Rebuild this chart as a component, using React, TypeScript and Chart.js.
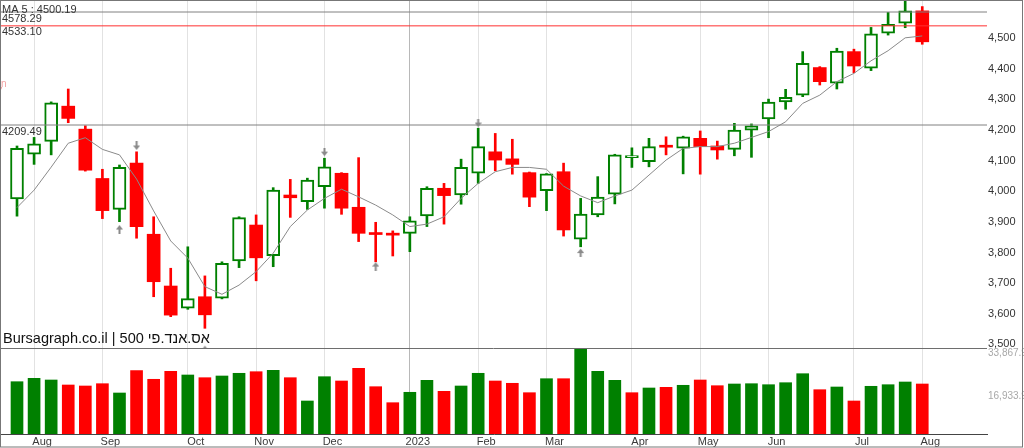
import React, { useEffect, useRef } from 'react';
import { Chart, registerables } from 'chart.js';

Chart.register(...registerables);

// ---- weekly OHLC (S&P 500) ----
const opens = [3968, 4114, 4156, 4271, 4196, 4035, 3934, 4085, 3853, 3684, 3612, 3649, 3644, 3766, 3883, 3783, 3981, 3959, 4008, 4052, 3941, 3856, 3854, 3856, 3913, 4003, 3981, 4052, 4122, 4099, 4054, 3995, 4057, 3837, 3916, 3984, 4103, 4090, 4140, 4134, 4166, 4141, 4130, 4193, 4229, 4285, 4307, 4397, 4346, 4449, 4395, 4509, 4542, 4582];
const highs = [4141, 4169, 4285, 4327, 4207, 4065, 4079, 4122, 3910, 3742, 3812, 3717, 3763, 3910, 3916, 4005, 4032, 4036, 4101, 4054, 4103, 3892, 3864, 3910, 4008, 4019, 4098, 4199, 4182, 4163, 4056, 4051, 4085, 3970, 4041, 4114, 4135, 4166, 4171, 4173, 4190, 4157, 4215, 4213, 4294, 4326, 4449, 4400, 4460, 4457, 4528, 4577, 4615, 4596];
const lows = [3912, 4081, 4112, 4217, 4059, 3904, 3894, 3840, 3649, 3584, 3608, 3546, 3642, 3744, 3701, 3747, 3908, 3934, 3938, 3918, 3829, 3763, 3782, 3796, 3878, 3886, 3951, 4019, 4060, 4049, 3943, 3930, 3847, 3812, 3910, 3952, 4071, 4073, 4112, 4050, 4049, 4098, 4109, 4104, 4168, 4261, 4302, 4340, 4327, 4380, 4387, 4503, 4527, 4473];
const closes = [4133, 4148, 4282, 4231, 4062, 3930, 4071, 3878, 3698, 3589, 3643, 3590, 3758, 3907, 3776, 3997, 3972, 4030, 4073, 3938, 3856, 3852, 3850, 3897, 4003, 3979, 4071, 4139, 4095, 4081, 3974, 4050, 3867, 3919, 3974, 4112, 4109, 4139, 4137, 4171, 4139, 4128, 4193, 4207, 4284, 4300, 4411, 4351, 4451, 4402, 4507, 4538, 4582, 4481];
const volumes = [20360, 21684, 21022, 19076, 18686, 19582, 15961, 24643, 21295, 24409, 22969, 21918, 22579, 23631, 24253, 24798, 21918, 12847, 22307, 20633, 25577, 18414, 12185, 16234, 20905, 16623, 18686, 23631, 20633, 19738, 16078, 21528, 21528, 33867.9, 24409, 20905, 16078, 17908, 18180, 18959, 21022, 18803, 19465, 19582, 19192, 19971, 23475, 17246, 18297, 12847, 18570, 19192, 20244, 19465];
const ma5 = [3940, 3997, 4072, 4150, 4168, 4130, 4112, 4033, 3929, 3831, 3775, 3682, 3657, 3687, 3731, 3791, 3878, 3932, 3970, 4000, 3975, 3948, 3916, 3878, 3886, 3910, 3970, 4019, 4057, 4071, 4071, 4065, 4010, 3978, 3956, 3978, 3997, 4046, 4095, 4133, 4139, 4139, 4150, 4169, 4188, 4220, 4280, 4307, 4351, 4378, 4419, 4452, 4494, 4500.19];

const monthTickIndex = [1, 5, 10, 14, 18, 23, 27, 31, 36, 40, 44, 49, 53];
const monthTickLabels = ['Aug', 'Sep', 'Oct', 'Nov', 'Dec', '2023', 'Feb', 'Mar', 'Apr', 'May', 'Jun', 'Jul', 'Aug'];
const yearTickIndex = 23;
const priceTicks = [3500, 3600, 3700, 3800, 3900, 4000, 4100, 4200, 4300, 4400, 4500];
const volumeTicks = [16933.9, 33867.9];
const refLines = [4578.29, 4533.1, 4209.49];
const arrowsDown = [{ i: 7, v: 4141 }, { i: 18, v: 4121 }, { i: 27, v: 4216 }];
const arrowsUp = [{ i: 6, v: 3870 }, { i: 11, v: 3476 }, { i: 21, v: 3749 }, { i: 33, v: 3793 }];
const watermark = 'Bursagraph.co.il | 500 אס.אנד.פי';

const GREEN = '#008000';
const RED = '#ff0000';
const FONT = "'Liberation Sans', Arial, sans-serif";

function makeArrow(down: boolean): HTMLCanvasElement {
  const c = document.createElement('canvas');
  c.width = 7;
  c.height = 9;
  const g = c.getContext('2d')!;
  g.fillStyle = '#8a8a8a';
  if (down) {
    g.fillRect(2.5, 0, 2, 5);
    g.beginPath();
    g.moveTo(0, 4);
    g.lineTo(7, 4);
    g.lineTo(3.5, 8.5);
    g.closePath();
    g.fill();
  } else {
    g.fillRect(2.5, 4, 2, 5);
    g.beginPath();
    g.moveTo(0, 5);
    g.lineTo(7, 5);
    g.lineTo(3.5, 0.5);
    g.closePath();
    g.fill();
  }
  return c;
}

const decorations = {
  id: 'decorations',
  afterDatasetsDraw(chart: any) {
    const ctx = chart.ctx;
    const y = chart.scales.y;
    const area = chart.chartArea;
    ctx.save();
    // separator between price and volume panes
    ctx.strokeStyle = '#6e6e6e';
    ctx.lineWidth = 1;
    ctx.beginPath();
    ctx.moveTo(0, Math.round(y.bottom) + 0.5);
    ctx.lineTo(area.right, Math.round(y.bottom) + 0.5);
    ctx.stroke();

    ctx.fillStyle = '#333';
    ctx.font = `11px ${FONT}`;
    ctx.textAlign = 'left';
    ctx.textBaseline = 'middle';
    ctx.fillText(`MA 5 : ${ma5[ma5.length - 1].toFixed(2)}`, 2, 10);
    ctx.textBaseline = 'top';
    refLines.forEach((v) => {
      ctx.fillText(v.toFixed(2), 2, y.getPixelForValue(v) + 1);
    });

    ctx.fillStyle = '#f2a0a0';
    ctx.font = `10px ${FONT}`;
    ctx.fillText('n', 1, 79);
    ctx.fillText('7', -3, 87);

    ctx.fillStyle = '#111';
    ctx.font = `14.5px ${FONT}`;
    ctx.textBaseline = 'alphabetic';
    ctx.fillText(watermark, 3, 343);

    // frame
    ctx.strokeStyle = '#777';
    ctx.strokeRect(0.5, 0.5, 1022, 446.5);
    ctx.restore();
  },
};

const noPad = (s: any) => {
  s.paddingTop = 0;
  s.paddingBottom = 0;
  s.paddingLeft = 0;
  s.paddingRight = 0;
};

export default function App() {
  const ref = useRef<HTMLCanvasElement | null>(null);

  useEffect(() => {
    if (!ref.current) return;
    const idx = opens.map((_, i) => i);
    const up = idx.map((i) => closes[i] >= opens[i]);
    const volUp = idx.map((i) => (i === 0 ? closes[i] >= opens[i] : closes[i] >= closes[i - 1]));
    const downArrow = makeArrow(true);
    const upArrow = makeArrow(false);

    const chart = new Chart(ref.current, {
      type: 'bar',
      data: {
        datasets: [
          ...refLines.map((v, k) => ({
            type: 'line' as const,
            data: [{ x: -2, y: v }, { x: 60, y: v }],
            borderColor: k === 1 ? '#ff3030' : '#808080',
            borderWidth: 1,
            pointRadius: 0,
            yAxisID: 'y',
            order: 0,
          })),
          {
            type: 'line' as const,
            data: ma5.map((v, i) => ({ x: i, y: v })),
            borderColor: '#8a8a8a',
            borderWidth: 1,
            pointRadius: 0,
            tension: 0,
            yAxisID: 'y',
            order: 1,
          },
          {
            type: 'line' as const,
            data: arrowsDown.map((a) => ({ x: a.i, y: a.v })),
            showLine: false,
            pointStyle: downArrow,
            pointRadius: 4,
            yAxisID: 'y',
            order: 0,
          },
          {
            type: 'line' as const,
            data: arrowsUp.map((a) => ({ x: a.i, y: a.v })),
            showLine: false,
            pointStyle: upArrow,
            pointRadius: 4,
            yAxisID: 'y',
            order: 0,
          },
          {
            type: 'bar' as const,
            data: idx.map((i) => ({ x: i, y: [opens[i], closes[i]] })),
            backgroundColor: up.map((u) => (u ? '#ffffff' : RED)),
            borderColor: up.map((u) => (u ? GREEN : RED)),
            borderWidth: up.map((u) => (u ? 2 : 0)),
            borderSkipped: false,
            barThickness: 13,
            minBarLength: 2,
            grouped: false,
            yAxisID: 'y',
            order: 2,
          },
          {
            type: 'bar' as const,
            data: idx.map((i) => ({ x: i, y: [lows[i], highs[i]] })),
            backgroundColor: up.map((u) => (u ? GREEN : RED)),
            borderWidth: 0,
            barThickness: 2,
            grouped: false,
            yAxisID: 'y',
            order: 3,
          },
          {
            type: 'bar' as const,
            data: idx.map((i) => ({ x: i, y: volumes[i] })),
            backgroundColor: volUp.map((u) => (u ? GREEN : RED)),
            borderWidth: 0,
            barThickness: 12,
            grouped: false,
            yAxisID: 'yv',
            order: 4,
          },
        ] as any,
      },
      options: {
        animation: false,
        responsive: false,
        devicePixelRatio: 1,
        layout: { autoPadding: false, padding: { left: 1, top: 1, right: 0, bottom: 1 } },
        plugins: { legend: { display: false }, tooltip: { enabled: false } },
        events: [],
        font: { family: FONT },
        scales: {
          x: {
            type: 'linear',
            position: 'bottom',
            min: -0.937,
            max: 56.79,
            offset: false,
            afterBuildTicks: (s: any) => {
              s.ticks = monthTickIndex.map((v) => ({ value: v }));
            },
            afterFit: (s: any) => {
              s.height = 13;
              noPad(s);
            },
            ticks: {
              autoSkip: false,
              maxRotation: 0,
              labelOffset: 8,
              padding: 1,
              color: '#3a3a3a',
              font: { family: FONT, size: 11 },
              callback: (_v: any, i: number) => monthTickLabels[i],
            },
            grid: {
              offset: false,
              drawTicks: false,
              lineWidth: 1,
              color: (c: any) => (c.tick && c.tick.value === yearTickIndex ? '#b8b8b8' : '#e2e2e2'),
            },
            border: { display: true, color: '#444', width: 1 },
          },
          y: {
            type: 'linear',
            position: 'right',
            stack: 'panes',
            stackWeight: 347,
            weight: 0,
            min: 3481.7,
            max: 4614.2,
            afterBuildTicks: (s: any) => {
              s.ticks = priceTicks.map((v) => ({ value: v }));
            },
            afterFit: (s: any) => {
              s.width = 37;
              noPad(s);
            },
            ticks: {
              padding: 1,
              labelOffset: 2,
              color: '#333',
              font: { family: FONT, size: 11 },
              callback: (v: any) => Number(v).toLocaleString('en-US'),
            },
            grid: { display: false, drawTicks: false },
            border: { display: false },
          },
          yv: {
            type: 'linear',
            position: 'right',
            stack: 'panes',
            stackWeight: 86,
            weight: 1,
            min: 0,
            max: 33479,
            afterBuildTicks: (s: any) => {
              s.ticks = volumeTicks.map((v) => ({ value: v }));
            },
            afterFit: (s: any) => {
              s.width = 37;
              noPad(s);
            },
            ticks: {
              padding: 1,
              labelOffset: 6,
              color: '#a8a8a8',
              font: { family: FONT, size: 10 },
              callback: (v: any) =>
                Number(v).toLocaleString('en-US', { minimumFractionDigits: 1, maximumFractionDigits: 1 }),
            },
            grid: { display: false, drawTicks: false },
            border: { display: false },
          },
        },
      } as any,
      plugins: [decorations],
    });
    return () => chart.destroy();
  }, []);

  return (
    <div style={{ position: 'fixed', left: 0, top: 0, width: 1024, height: 448, background: '#fff' }}>
      <canvas ref={ref} width={1024} height={448} style={{ display: 'block', width: 1024, height: 448 }} />
    </div>
  );
}
